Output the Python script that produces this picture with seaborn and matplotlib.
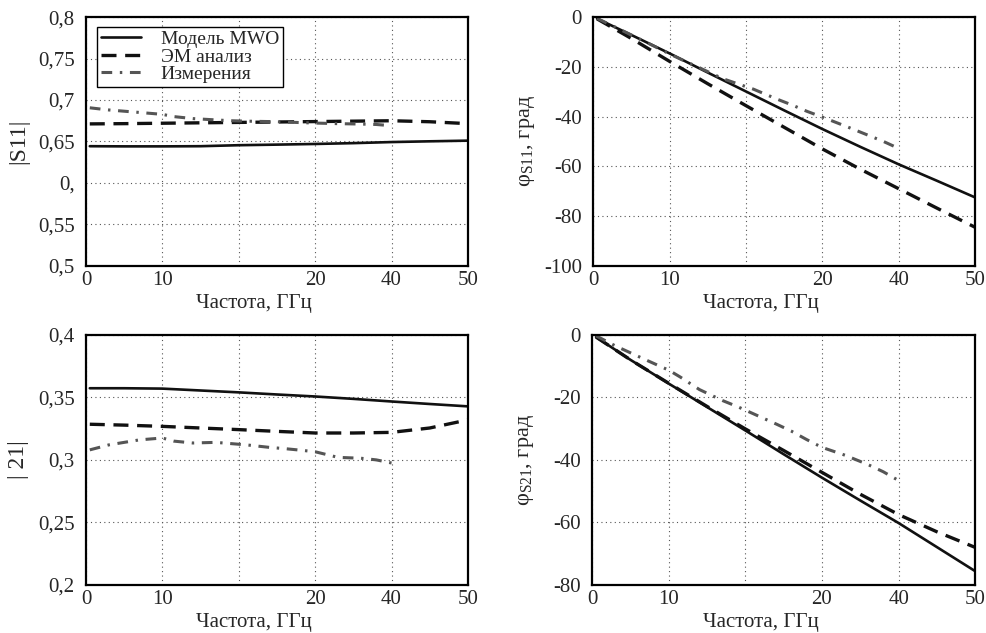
"""
S-parameter comparison: MWO model vs EM analysis vs measurement
"""

import numpy as np
import pandas as pd
import matplotlib
matplotlib.use('Agg')
import matplotlib.pyplot as plt
import seaborn as sns

# Frequency grid (axis position, GHz)
FREQ = [0.5, 5, 10, 15, 20, 25, 30, 35, 40, 45, 50]
FREQ_MEAS = [0.5, 3, 7, 10, 11.5, 14, 17, 19, 21, 24, 26, 28, 30, 33, 36, 38, 40]

# |S11|
S11_MWO = [0.6443, 0.6441, 0.6441, 0.6443, 0.6455, 0.6462, 0.6470, 0.6480, 0.6493, 0.6502, 0.6510]
S11_EM = [0.6712, 0.6715, 0.6720, 0.6725, 0.6730, 0.6735, 0.6740, 0.6745, 0.6750, 0.6738, 0.6715]
S11_MEAS = [0.6906, 0.6880, 0.6850, 0.6827, 0.6800, 0.6776, 0.6760, 0.6750, 0.6745, 0.6740, 0.6735,
            0.6728, 0.6722, 0.6715, 0.6710, 0.6705, 0.6690]

# phase S11, deg
PH11_MWO = [-0.6, -7.2, -14.6, -22.3, -29.9, -37.5, -45.0, -52.2, -59.2, -65.8, -72.5]
PH11_EM = [-0.7, -8.6, -17.8, -26.8, -35.6, -44.3, -53.0, -61.2, -69.0, -76.8, -84.5]
PH11_MEAS = [-0.5, -4.2, -10.2, -14.8, -17.0, -20.5, -24.8, -26.9, -29.0, -32.9, -35.3,
             -37.9, -40.2, -43.8, -47.5, -50.0, -52.8]

# |S21|
S21_MWO = [0.3573, 0.3573, 0.3570, 0.3555, 0.3540, 0.3523, 0.3507, 0.3488, 0.3467, 0.3447, 0.3428]
S21_EM = [0.3285, 0.3278, 0.3268, 0.3255, 0.3242, 0.3228, 0.3215, 0.3215, 0.3220, 0.3255, 0.3320]
S21_MEAS = [0.3080, 0.3120, 0.3160, 0.3175, 0.3150, 0.3135, 0.3140, 0.3130, 0.3120, 0.3100, 0.3090,
            0.3078, 0.3065, 0.3020, 0.3013, 0.3000, 0.2975]

# phase S21, deg
PH21_MWO = [-0.7, -8.0, -15.6, -23.1, -30.6, -38.2, -45.7, -53.0, -60.2, -67.9, -75.6]
PH21_EM = [-0.7, -8.0, -15.5, -22.9, -30.1, -37.0, -44.0, -51.0, -57.5, -63.0, -68.0]
PH21_MEAS = [-0.3, -3.5, -8.0, -11.3, -13.5, -17.5, -21.0, -23.0, -25.2, -28.5, -30.8,
             -33.5, -36.0, -38.5, -41.5, -43.8, -46.6]

LABELS = ['Модель MWO', 'ЭМ анализ', 'Измерения']

X_TICKS = [0, 10, 20, 30, 40, 50]
X_TICKLABELS = ['0', '10', '', '20', '40', '50']

S11_TICKS = [0.5, 0.55, 0.6, 0.65, 0.7, 0.75, 0.8]
S11_TICKLABELS = ['0,5', '0,55', '0,', '0,65', '0,7', '0,75', '0,8']
S21_TICKS = [0.2, 0.25, 0.3, 0.35, 0.4]
S21_TICKLABELS = ['0,2', '0,25', '0,3', '0,35', '0,4']
PH11_TICKS = [-100, -80, -60, -40, -20, 0]
PH21_TICKS = [-80, -60, -40, -20, 0]

STYLES = {
    LABELS[0]: dict(color='#111111', lw=1.9, dashes=None),
    LABELS[1]: dict(color='#111111', lw=2.4, dashes=(4.5, 2.6)),
    LABELS[2]: dict(color='#555555', lw=2.2, dashes=(3.5, 2.5, 0.8, 2.5)),
}


def make_frame(mwo, em, meas):
    parts = [
        pd.DataFrame({'f': FREQ, 'v': mwo, 'src': LABELS[0]}),
        pd.DataFrame({'f': FREQ, 'v': em, 'src': LABELS[1]}),
        pd.DataFrame({'f': FREQ_MEAS, 'v': meas, 'src': LABELS[2]}),
    ]
    return pd.concat(parts, ignore_index=True)


def draw(ax, df, ylim, yticks, yticklabels, ylabel, ylabel_size=15):
    for src, sub in df.groupby('src', sort=False):
        st = STYLES[src]
        sns.lineplot(data=sub, x='f', y='v', ax=ax, color=st['color'],
                     linewidth=st['lw'], label=src, legend=False)
        ln = ax.get_lines()[-1]
        if st['dashes'] is not None:
            ln.set_dashes(st['dashes'])
    ax.set_xlim(0, 50)
    ax.set_ylim(*ylim)
    ax.set_xticks(X_TICKS)
    ax.set_xticklabels(X_TICKLABELS)
    ax.set_yticks(yticks)
    ax.set_yticklabels(yticklabels)
    ax.grid(True, linestyle=(0, (1, 3)), color='#555555', linewidth=0.8)
    ax.tick_params(axis='both', length=0, labelsize=15)
    ax.tick_params(axis='x', pad=4)
    ax.tick_params(axis='y', pad=8)
    for sp in ax.spines.values():
        sp.set_linewidth(1.6)
        sp.set_color('black')
    ax.set_xlabel('Частота, ГГц', fontsize=15)
    ax.set_ylabel(ylabel, fontsize=ylabel_size)
    ax.xaxis.set_label_coords(0.44, -0.112)
    ax.yaxis.set_label_coords(-0.148, 0.5)


sns.set_style('white')
plt.rcParams['font.family'] = ['Liberation Serif', 'DejaVu Serif']
plt.rcParams['mathtext.fontset'] = 'custom'
plt.rcParams['mathtext.rm'] = 'Liberation Serif'
plt.rcParams['mathtext.it'] = 'Liberation Serif'

fig = plt.figure(figsize=(9.87, 6.33), dpi=100)
ax1 = fig.add_axes([0.0871, 0.580, 0.387, 0.393])
ax2 = fig.add_axes([0.601, 0.580, 0.387, 0.393])
ax3 = fig.add_axes([0.0871, 0.076, 0.387, 0.395])
ax4 = fig.add_axes([0.600, 0.076, 0.388, 0.395])

draw(ax1, make_frame(S11_MWO, S11_EM, S11_MEAS), (0.5, 0.8), S11_TICKS, S11_TICKLABELS,
     '|S11|', ylabel_size=17)
draw(ax2, make_frame(PH11_MWO, PH11_EM, PH11_MEAS), (-100, 0), PH11_TICKS,
     [str(t) for t in PH11_TICKS], r'$\mathrm{\varphi_{S11}}$, град', ylabel_size=16)
draw(ax3, make_frame(S21_MWO, S21_EM, S21_MEAS), (0.2, 0.4), S21_TICKS, S21_TICKLABELS,
     '| 21|', ylabel_size=17)
draw(ax4, make_frame(PH21_MWO, PH21_EM, PH21_MEAS), (-80, 0), PH21_TICKS,
     [str(t) for t in PH21_TICKS], r'$\mathrm{\varphi_{S21}}$, град', ylabel_size=16)

leg = ax1.legend(loc='upper left', bbox_to_anchor=(0.028, 0.962), fontsize=14,
                 frameon=True, fancybox=False, edgecolor='black', framealpha=1,
                 handlelength=2.1, handletextpad=1.0, labelspacing=0.0,
                 borderpad=0.2, borderaxespad=0)
leg.get_frame().set_linewidth(1.0)

plt.savefig('out.png', dpi=100, facecolor='white')
